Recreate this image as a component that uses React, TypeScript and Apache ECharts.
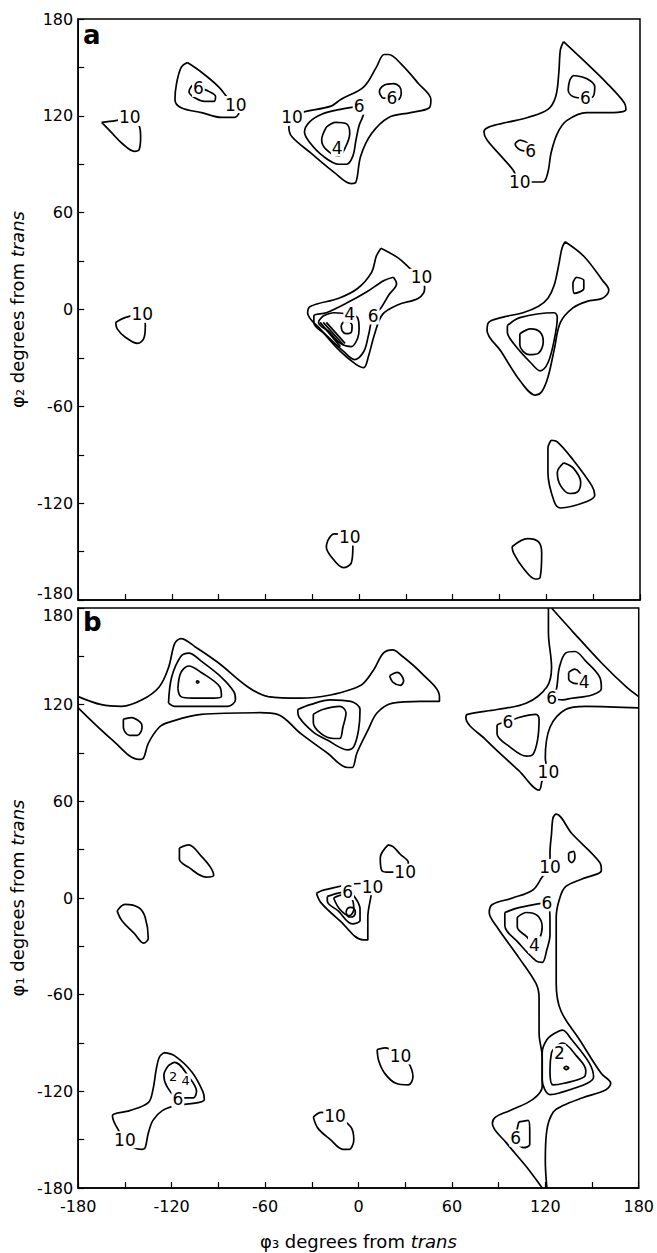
import React, { useEffect, useRef } from "react";
import * as echarts from "echarts";

// ---------- tick labels ----------
const tickValues = [-180, -120, -60, 0, 60, 120, 180];

// ---------- panel a contours (x = phi3 deg, y = phi2 deg) ----------
const aLeftTop10 = [[-165,116],[-156,117],[-147,119],[-141,114],[-140,107],[-141,99],[-144,98],[-152,103],[-158,109],[-165,116]];
const aTopLeft10 = [[-110,153],[-101,147],[-90,138],[-84,131],[-79,127],[-77,122],[-80,119],[-88,119],[-101,122],[-114,125],[-118,130],[-117,140],[-114,150],[-110,153]];
const aTopLeft6 = [[-107,139],[-109,135],[-105,131],[-99,129],[-93,129],[-92,132],[-96,135],[-101,137],[-107,139]];
const aMid10 = [[-43,119],[-37,122],[-18,126],[-12,130],[3,138],[11,150],[16,158],[19,158],[27,152],[38,140],[46,130],[45,125],[33,122],[19,119],[8,109],[1,95],[-2,79],[-5,78],[-16,85],[-31,97],[-43,107],[-45,113],[-43,119]];
const aMid6 = [[0,126],[-12,124],[-24,121],[-32,116],[-35,110],[-32,104],[-23,95],[-13,90],[-8,90],[-4,95],[-2,105],[0,114],[3,122],[0,126]];
const aMid4 = [[-21,113],[-15,116],[-8,115],[-6,109],[-9,100],[-13,95],[-21,99],[-24,105],[-21,113]];
const aMid6b = [[15,131],[13,135],[16,139],[22,140],[26,138],[27,134],[25,130],[21,131],[15,131]];
const aRight10 = [[131,166],[142,156],[159,140],[170,128],[171,124],[163,122],[146,122],[133,117],[127,109],[123,97],[121,85],[118,79],[113,79],[103,79],[99,86],[91,95],[82,105],[80,110],[83,113],[95,116],[108,119],[121,124],[126,132],[128,147],[129,161],[131,166]];
const aRight6a = [[137,145],[146,143],[151,138],[150,132],[145,131],[137,132],[134,136],[135,142],[137,145]];
const aRight6b = [[103,105],[100,102.5],[103,99],[110,98],[108,103],[103,105]];
const aCen10 = [[14,38],[25,32],[32,26],[40,20],[42,13],[38,7],[25,3],[15,-3],[10,-15],[6,-29],[3,-36],[-2,-34],[-12,-26],[-24,-13],[-33,-2],[-31,2],[-13,7],[-1,13],[8,23],[11,33],[14,38]];
const aCen6 = [[22,20],[24,16],[19,9],[14,1],[9,-4],[6,-16],[3,-26],[-3,-31],[-10,-26],[-21,-16],[-29,-8],[-29,-4],[-21,-2],[-8,4],[5,11],[16,18],[22,20]];
const aCen4 = [[-23,-4],[-16,-2],[-6,-3],[-1,-5],[0,-12],[-1,-18],[-5,-23],[-12,-21],[-19,-14],[-26,-8],[-23,-4]];
const aCen0 = [[-11.5,-10],[-9.5,-7.7],[-6.5,-7.7],[-4.5,-10],[-5,-14],[-8.3,-15],[-10.8,-13.3],[-11.5,-10]];
const aBundle1 = [[-25,-8],[-12,-23]];
const aBundle2 = [[-23,-8],[-10,-22]];
const aBundle3 = [[-21,-8],[-9,-21]];
const aRC10 = [[132,42],[144,33],[156,18],[160,12],[156,7],[146,5],[137,1],[129,-8],[125,-25],[121,-42],[117,-51],[113,-53],[103,-44],[91,-26],[82,-13],[83,-8],[91,-5],[105,-2],[115,2],[121,7],[125,15],[128,28],[130,38],[132,42]];
const aRCsmall = [[139,20],[144,18],[144,13],[138,10],[137,16],[139,20]];
const aRC2 = [[95,-10],[103,-5],[125,-2],[127,-5],[125,-19],[121,-33],[116,-38],[110,-33],[99,-21],[95,-14],[95,-10]];
const aRC3 = [[103,-15],[110,-12],[116,-14],[118,-20],[115,-27],[109,-28],[103,-22],[103,-15]];
const aLeft10 = [[-156,-8],[-150,-5],[-139,-3],[-137,-10],[-138,-18],[-142,-21],[-150,-17],[-155,-12],[-156,-8]];
const aLR1 = [[123,-81],[127,-82],[137,-93],[149,-109],[151,-115],[146,-119],[129,-123],[125,-119],[121,-101],[121,-86],[123,-81]];
const aLR2 = [[131,-95],[137,-98],[142,-107],[140,-113],[135,-114],[129,-109],[127,-101],[131,-95]];
const aBR = [[98,-147],[108,-142],[115,-144],[117,-151],[116,-166],[113,-167],[105,-160],[99,-151],[98,-147]];
const aBot10 = [[-20,-143],[-16,-139],[-6,-141],[-4,-147],[-5,-157],[-10,-160],[-18,-153],[-21,-147],[-20,-143]];

const aLabels: [number, number, string][] = [
  [-147,119,"10"],[-103,137,"6"],[-79,127,"10"],[-43,119,"10"],[0,126,"6"],[-14,100,"4"],
  [21,131,"6"],[103,79,"10"],[145,131,"6"],[110,98,"6"],[40,20,"10"],[9,-4,"6"],[-6,-3,"4"],
  [-139,-3,"10"],[-6,-141,"10"],
];

// ---------- panel b contours (x = phi3 deg, y = phi1 deg) ----------
const bTop10 = [[-180,125],[-165,120],[-152,119],[-139,123],[-128,131],[-122,143],[-118,158],[-114,161],[-105,156],[-90,146],[-71,131],[-58,125],[-37,124],[-18,126],[-3,130],[3,133],[10,142],[16,152],[22,154],[27,151],[40,140],[52,125],[52,122],[40,122],[22,121],[12,115],[6,104],[-1,90],[-4,81],[-7,81],[-20,90],[-37,102],[-52,114],[-63,115],[-101,114],[-122,109],[-128,106],[-135,96],[-138,87],[-141,86],[-158,98],[-180,118]];
const bTL2 = [[-122,121],[-120,137],[-114,150],[-109,152],[-101,147],[-88,137],[-80,128],[-79,123],[-84,119],[-101,119],[-118,119],[-122,121]];
const bTL3 = [[-116,130],[-114,140],[-109,144],[-101,140],[-89,131],[-88,125],[-93,124],[-107,124],[-114,125],[-116,130]];
const bTLdot = [[-104.3,134.1],[-103.4,134.8],[-102.5,134.1],[-103.4,133.4],[-104.3,134.1]];
const bTLsmall = [[-151,111],[-146,112],[-140,109],[-139,106],[-142,101],[-147,101],[-151,106],[-151,111]];
const bTC2 = [[-39,117],[-31,120],[-18,123],[-5,122],[1,117],[0,104],[-3,94],[-7,92],[-20,98],[-29,103],[-38,112],[-39,117]];
const bTC3 = [[-29,114],[-23,117],[-12,119],[-8,115],[-10,106],[-12,99],[-16,99],[-24,102],[-29,109],[-29,114]];
const bTCsmall = [[20,138],[25,140],[29,135],[27,132],[22,134],[20,138]];
const bTR10 = [[122,180],[122,165],[124,143],[121,131],[108,121],[89,117],[70,114],[69,112],[82,98],[103,79],[116,67],[118,73],[121,79],[120,87],[123,106],[133,117],[146,119],[180,118]];
const bTRdiag = [[124,180],[137,166],[156,146],[172,131],[180,125]];
const bTR6a = [[124,124],[127,129],[129,143],[133,152],[139,153],[146,147],[155,137],[156,130],[150,126],[137,124],[131,123],[124,124]];
const bTR4 = [[135,140],[139,142],[142,140],[145,134],[140,133],[135,136],[135,140]];
const bTR6b = [[96,109],[103,112],[114,114],[116,111],[115,98],[112,89],[108,88],[97,94],[89,102],[89,107],[96,109]];
const bRV = [[118,-180],[108,-167],[95,-152],[86,-140],[88,-136],[97,-132],[112,-125],[118,-117],[118,-99],[116,-84],[116,-62],[114,-53],[103,-37],[89,-18],[84,-9],[86,-4],[99,0],[112,5],[118,13],[123,19],[123,28],[124,40],[125,50],[127,52],[137,40],[155,22],[156,17],[144,12],[133,7],[129,-1],[127,-12],[127,-22],[127,-53],[130,-70],[142,-88],[156,-109],[162,-115],[159,-119],[144,-124],[131,-129],[125,-133],[121,-144],[120,-163],[121,-180]];
const bRVsmall = [[135,28],[138,29],[139,25],[137,22],[135,24],[135,28]];
const bRV6 = [[94,-9],[103,-6],[121,-3],[123,-14],[123,-23],[121,-32],[118,-40],[114,-39],[103,-28],[94,-17],[94,-9]];
const bRV4 = [[102,-12],[108,-9],[115,-11],[118,-18],[116,-26],[113,-29],[108,-24],[102,-18],[102,-12]];
const bRVlowA = [[126,-84],[131,-82],[137,-88],[148,-102],[151,-111],[147,-115],[129,-121],[123,-122],[118,-113],[118,-96],[121,-88],[126,-84]];
const bRVlowB = [[126,-93],[131,-90],[140,-98],[146,-107],[145,-111],[132,-115],[125,-116],[123,-107],[124,-96],[126,-93]];
const bRVdot = [[131.8,-105.5],[133.4,-104.5],[135,-105.5],[133.4,-106.5],[131.8,-105.5]];
const bRV6low = [[103,-139],[109,-138],[110,-144],[110,-153],[106,-155],[101,-149],[102,-143],[103,-139]];
const bC10 = [[-27,3],[-22,5],[1,9],[9,7],[8,1],[6,-12],[6,-26],[3,-26],[-12,-14],[-24,-3],[-27,3]];
const bC6 = [[-20,1],[-13,3],[-7,4],[-2,0],[1,-7],[1,-14],[-4,-16],[-13,-8],[-20,-2],[-20,1]];
const bC4 = [[-16,0],[-10,2],[-4,-1],[-3,-7],[-6,-11],[-12,-7],[-16,0]];
const bC0 = [[-8,-8.8],[-7,-6.4],[-5,-5.8],[-3,-6.4],[-2,-8.8],[-3,-11.2],[-5,-11.8],[-7,-11.2],[-8,-8.8]];
const bC10small = [[19,33],[14,25],[15,17],[20,16],[30,16],[32,22],[27,27],[22,32],[19,33]];
const bL1 = [[-115,31],[-109,33],[-101,26],[-95,19],[-93,14],[-98,13],[-109,19],[-115,24],[-115,31]];
const bL2 = [[-155,-8],[-150,-4],[-141,-6],[-137,-12],[-135,-25],[-138,-28],[-144,-22],[-152,-14],[-155,-8]];
const bBL10 = [[-125,-96],[-118,-98],[-107,-108],[-100,-120],[-99,-125],[-103,-127],[-118,-129],[-126,-132],[-132,-138],[-135,-146],[-137,-155],[-139,-156],[-144,-155],[-150,-150],[-156,-141],[-158,-135],[-147,-132],[-135,-127],[-132,-119],[-130,-107],[-128,-99],[-125,-96]];
const bBL6 = [[-122,-104],[-118,-102],[-109,-111],[-104,-120],[-106,-124],[-110,-124],[-116,-124],[-123,-117],[-125,-110],[-122,-104]];
const bBC10 = [[-29,-136],[-24,-133],[-15,-135],[-5,-142],[-3,-150],[-6,-156],[-10,-156],[-18,-150],[-26,-143],[-29,-136]];
const bBC10b = [[12,-94],[17,-93],[27,-98],[32,-102],[35,-111],[32,-116],[24,-115],[17,-109],[13,-101],[12,-94]];

const bLabels: [number, number, string][] = [
  [122,78,"10"],[124,124,"6"],[145,134,"4"],[96,109,"6"],[123,19,"10"],[121,-3,"6"],[113,-29,"4"],
  [129,-96,"2"],[101,-149,"6"],[9,7,"10"],[-7,4,"6"],[30,16,"10"],[-150,-150,"10"],[-116,-125,"6"],
  [-15,-135,"10"],[27,-98,"10"],
];
const bSmallLabels: [number, number, string][] = [[-119,-111,"2"],[-111,-113,"4"]];

const panelA = [aLeftTop10, aTopLeft10, aTopLeft6, aMid10, aMid6, aMid4, aMid6b, aRight10, aRight6a, aRight6b,
  aCen10, aCen6, aCen4, aCen0, aRC10, aRCsmall, aRC2, aRC3, aLeft10, aLR1, aLR2, aBR, aBot10];
const panelAStraight = [aBundle1, aBundle2, aBundle3];
const panelB = [bTop10, bTL2, bTL3, bTLdot, bTLsmall, bTC2, bTC3, bTCsmall, bTR10, bTRdiag, bTR6a, bTR4, bTR6b,
  bRV, bRVsmall, bRV6, bRV4, bRVlowA, bRVlowB, bRVdot, bRV6low, bC10, bC6, bC4, bC0, bC10small, bL1, bL2,
  bBL10, bBL6, bBC10, bBC10b];

const FONT = "DejaVu Sans";

export default function App() {
  const ref = useRef<HTMLDivElement>(null);
  useEffect(() => {
    if (!ref.current) return;
    const chart = echarts.init(ref.current, undefined, { renderer: "svg" });

    const lineSeries = (data: number[][], idx: number, smooth: number | boolean) => ({
      type: "line",
      xAxisIndex: idx,
      yAxisIndex: idx,
      data,
      smooth,
      symbol: "none",
      silent: true,
      lineStyle: { color: "#000", width: 1.7 },
      z: 2,
    });
    const labelSeries = (labels: [number, number, string][], idx: number, size: number) => ({
      type: "scatter",
      xAxisIndex: idx,
      yAxisIndex: idx,
      symbolSize: 1,
      itemStyle: { color: "#fff", opacity: 0 },
      silent: true,
      z: 5,
      data: labels.map((l) => ({ value: [l[0], l[1]], name: l[2] })),
      label: {
        show: true,
        position: "inside",
        formatter: "{b}",
        color: "#000",
        opacity: 1,
        textBorderWidth: 0,
        fontSize: size,
        fontFamily: FONT,
        backgroundColor: "#fff",
        padding: [0, 1],
      },
    });

    const tickFmt = (v: number) => (tickValues.includes(v) ? String(v) : "");
    const labelRich = {
      sp: { fontSize: 16, lineHeight: 14, fontFamily: FONT },
      lo: { fontSize: 16, lineHeight: 16, fontFamily: FONT, color: "#000" },
    };
    const baseAxis = {
      type: "value",
      min: -180,
      max: 180,
      interval: 30,
      splitLine: { show: false },
      axisLine: { show: true, onZero: false, lineStyle: { color: "#000", width: 1.5 } },
      axisTick: { show: true, inside: true, length: 6, lineStyle: { color: "#000", width: 1.2 } },
    };
    const ylab = (fmt: (v: number) => string) => ({
      show: true,
      formatter: fmt,
      fontSize: 16,
      fontFamily: FONT,
      color: "#000",
      margin: 5,
      lineHeight: 16,
      showMinLabel: true,
      showMaxLabel: true,
      rich: labelRich,
    });
    const rich = {
      a: { fontSize: 18, fontFamily: FONT, color: "#000" },
      b: { fontSize: 18, fontFamily: FONT, fontStyle: "italic", color: "#000" },
    };

    const option: any = {
      animation: false,
      backgroundColor: "#fff",
      grid: [
        { left: 76, top: 19, width: 564, height: 581, show: true, borderColor: "#000", borderWidth: 1.5 },
        { left: 76, top: 608, width: 564, height: 580, show: true, borderColor: "#000", borderWidth: 1.5 },
      ],
      xAxis: [
        { ...baseAxis, gridIndex: 0, axisLabel: { show: false } },
        {
          ...baseAxis,
          gridIndex: 1,
          axisLabel: { show: true, formatter: tickFmt, fontSize: 16, fontFamily: FONT, color: "#000", margin: 10, showMinLabel: true, showMaxLabel: true },
          name: "{a|φ₃ degrees from }{b|trans}",
          nameLocation: "middle",
          nameGap: 44,
          nameTextStyle: { rich },
        },
      ],
      yAxis: [
        {
          ...baseAxis,
          gridIndex: 0,
          axisLabel: ylab((v: number) => (v === -180 ? "{lo|-180}\n{sp| }" : tickFmt(v))),
          name: "{a|φ₂ degrees from }{b|trans}",
          nameLocation: "middle",
          nameGap: 48,
          nameRotate: 90,
          nameTextStyle: { rich },
        },
        {
          ...baseAxis,
          gridIndex: 1,
          axisLabel: ylab((v: number) => (v === 180 ? "{sp| }\n{lo|180}" : tickFmt(v))),
          name: "{a|φ₁ degrees from }{b|trans}",
          nameLocation: "middle",
          nameGap: 48,
          nameRotate: 90,
          nameTextStyle: { rich },
        },
      ],
      graphic: [
        { type: "text", left: 83, top: 22, style: { text: "a", font: `bold 26px "${FONT}"`, fill: "#000" } },
        { type: "text", left: 83, top: 609, style: { text: "b", font: `bold 26px "${FONT}"`, fill: "#000" } },
      ],
      series: [
        ...panelA.map((d) => lineSeries(d, 0, 0.35)),
        ...panelAStraight.map((d) => lineSeries(d, 0, false)),
        ...panelB.map((d) => lineSeries(d, 1, 0.35)),
        labelSeries(aLabels, 0, 17),
        labelSeries(bLabels, 1, 17),
        labelSeries(bSmallLabels, 1, 13),
      ],
    };
    chart.setOption(option);
    return () => chart.dispose();
  }, []);

  return (
    <div
      ref={ref}
      style={{ position: "absolute", left: 0, top: 0, width: 657, height: 1253, background: "#fff" }}
    />
  );
}
